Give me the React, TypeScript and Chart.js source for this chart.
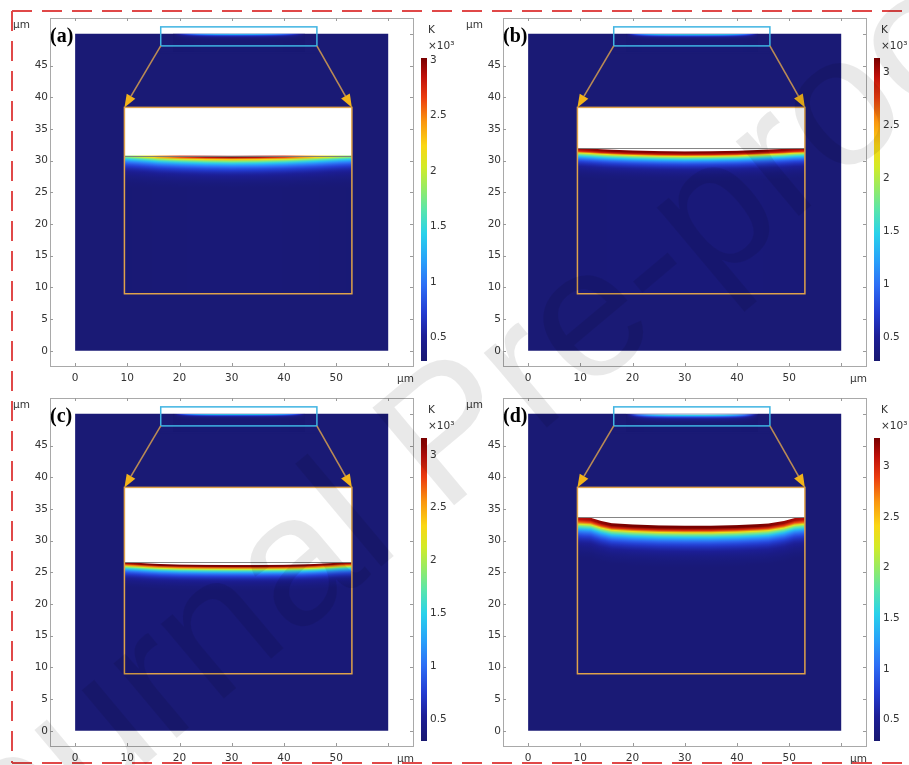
import React, { useEffect, useRef } from 'react';
import { Chart, registerables } from 'chart.js';

Chart.register(...registerables);

// ---------- axes / ticks ----------
const X_TICKS = [0, 10, 20, 30, 40, 50, 60];
const Y_TICKS = [0, 5, 10, 15, 20, 25, 30, 35, 40, 45, 50];
const CB_TICKS = [0.5, 1, 1.5, 2, 2.5, 3];
const X_RANGE = [-4.8, 64.7];
const Y_RANGE = [-2.4, 52.5];

// ---------- geometry of the model (μm) ----------
const DOMAIN_X = [0, 60];
const DOMAIN_TOP = 50;
const ZOOM_BOX_X = [16.4, 46.3];
const ZOOM_BOX_Y = [48.1, 51.1];
const INSET_X = [9.45, 53.0];
const INSET_Y = [9.0, 38.4];

const PANEL_LABELS = ['(a)', '(b)', '(c)', '(d)'];

// ---------- temperature field data (inset display units, K x 10^3) ----------
const PROFILE_X = [9.5, 12, 14, 16, 20, 25, 30, 35, 40, 44, 46, 49, 51, 53];
const SURFACE_LEVEL = [30.8, 32.0, 26.6, 33.7];
const CRATER_A = [30.8, 30.8, 30.8, 30.8, 30.8, 30.78, 30.76, 30.78, 30.8, 30.8, 30.8, 30.8, 30.8, 30.8];
const CRATER_B = [32.0, 31.9, 31.8, 31.72, 31.6, 31.5, 31.45, 31.48, 31.55, 31.68, 31.75, 31.85, 31.95, 32.0];
const CRATER_C = [26.6, 26.5, 26.4, 26.32, 26.22, 26.17, 26.15, 26.15, 26.18, 26.26, 26.32, 26.45, 26.55, 26.6];
const CRATER_D = [33.7, 33.6, 33.1, 32.75, 32.55, 32.4, 32.35, 32.35, 32.45, 32.6, 32.7, 33.1, 33.55, 33.7];
const PEAK_A = [1.75, 1.95, 2.15, 2.4, 2.7, 2.93, 3.0, 2.95, 2.75, 2.45, 2.3, 2.05, 1.9, 1.8];
const PEAK_B = [3.0, 3.05, 3.08, 3.1, 3.1, 3.1, 3.1, 3.1, 3.1, 3.1, 3.08, 3.05, 3.02, 3.0];
const PEAK_C = [3.05, 3.1, 3.12, 3.14, 3.15, 3.15, 3.15, 3.15, 3.15, 3.14, 3.12, 3.1, 3.07, 3.05];
const PEAK_D = [3.1, 3.15, 3.22, 3.26, 3.28, 3.28, 3.28, 3.28, 3.28, 3.27, 3.25, 3.2, 3.15, 3.1];
const MELT_W = [0.25, 0.45, 0.3, 0.6];
const DECAY_L = [1.1, 0.95, 0.85, 1.35];
const AMBIENT_T = 0.3;
const CB_MIN = [0.29, 0.28, 0.29, 0.29];
const CB_MAX = [3.02, 3.13, 3.16, 3.28];

const CRATERS = [CRATER_A, CRATER_B, CRATER_C, CRATER_D];
const PEAKS = [PEAK_A, PEAK_B, PEAK_C, PEAK_D];

// ---------- styles ----------
const NAVY = 'rgb(26,26,117)';
const TICK_FONT = { family: 'DejaVu Sans', size: 10.5 };
const TICK_COLOR = '#333';

const JET: [number, number[]][] = [
  [0.0, [24, 24, 112]],
  [0.08, [28, 30, 150]],
  [0.16, [35, 60, 210]],
  [0.25, [45, 110, 245]],
  [0.33, [40, 160, 250]],
  [0.42, [40, 210, 235]],
  [0.5, [90, 230, 170]],
  [0.57, [150, 235, 100]],
  [0.64, [210, 235, 40]],
  [0.71, [250, 215, 20]],
  [0.79, [250, 150, 15]],
  [0.87, [235, 60, 15]],
  [0.94, [190, 15, 10]],
  [1.0, [120, 0, 0]],
];

function jet(t: number): string {
  t = Math.max(0, Math.min(1, t));
  for (let i = 1; i < JET.length; i++) {
    if (t <= JET[i][0]) {
      const [t0, c0] = JET[i - 1];
      const [t1, c1] = JET[i];
      const f = (t - t0) / (t1 - t0);
      const c = c0.map((v, k) => Math.round(v + f * (c1[k] - v)));
      return `rgb(${c[0]},${c[1]},${c[2]})`;
    }
  }
  return 'rgb(120,0,0)';
}

function interp(xs: number[], ys: number[], x: number): number {
  if (x <= xs[0]) return ys[0];
  if (x >= xs[xs.length - 1]) return ys[ys.length - 1];
  for (let i = 1; i < xs.length; i++) {
    if (x <= xs[i]) {
      const f = (x - xs[i - 1]) / (xs[i] - xs[i - 1]);
      return ys[i - 1] + f * (ys[i] - ys[i - 1]);
    }
  }
  return ys[ys.length - 1];
}

// draw the heated band column by column
function drawField(
  ctx: CanvasRenderingContext2D,
  idx: number,
  c0: number,
  c1: number,
  colToInsetX: (col: number) => number,
  insetYToPix: (y: number) => number,
  whiteTopPix: number,
  bottomPix: number,
  pxPerUnit: number,
  fade: (col: number) => number
) {
  const w = MELT_W[idx];
  const L = DECAY_L[idx];
  const span = w + 4.5 * L;
  const tMin = CB_MIN[idx];
  const tMax = CB_MAX[idx];
  for (let col = c0; col < c1; col++) {
    const xi = colToInsetX(col + 0.5);
    const cy = interp(PROFILE_X, CRATERS[idx], xi);
    const pk = AMBIENT_T + (interp(PROFILE_X, PEAKS[idx], xi) - AMBIENT_T) * fade(col);
    const yTop = insetYToPix(cy);
    if (whiteTopPix < yTop) {
      ctx.fillStyle = '#ffffff';
      ctx.fillRect(col, whiteTopPix, 1, yTop - whiteTopPix);
    }
    const depthPx = Math.max(1, span * pxPerUnit);
    const g = ctx.createLinearGradient(0, yTop, 0, yTop + depthPx);
    const N = 18;
    for (let i = 0; i <= N; i++) {
      const f = i / N;
      const d = f * span;
      const T = AMBIENT_T + (pk - AMBIENT_T) * Math.exp(-Math.max(0, d - w) / L);
      g.addColorStop(f, jet((T - tMin) / (tMax - tMin)));
    }
    ctx.fillStyle = g;
    ctx.fillRect(col, yTop, 1, bottomPix - yTop);
  }
}

function arrow(ctx: CanvasRenderingContext2D, x0: number, y0: number, x1: number, y1: number) {
  const ang = Math.atan2(y1 - y0, x1 - x0);
  const head = 13;
  const hw = 5;
  const bx = x1 - head * Math.cos(ang);
  const by = y1 - head * Math.sin(ang);
  ctx.strokeStyle = '#b98a55';
  ctx.lineWidth = 1.6;
  ctx.beginPath();
  ctx.moveTo(x0, y0);
  ctx.lineTo(bx, by);
  ctx.stroke();
  ctx.fillStyle = '#f2b31a';
  ctx.beginPath();
  ctx.moveTo(x1, y1);
  ctx.lineTo(bx + hw * Math.sin(ang), by - hw * Math.cos(ang));
  ctx.lineTo(bx - hw * Math.sin(ang), by + hw * Math.cos(ang));
  ctx.closePath();
  ctx.fill();
}

function makeMainConfig(idx: number): any {
  const fieldPlugin = {
    id: 'field' + idx,
    afterDatasetsDraw(chart: any) {
      const ctx: CanvasRenderingContext2D = chart.ctx;
      const xs = chart.scales.x;
      const ys = chart.scales.y;
      const px = (v: number) => xs.getPixelForValue(v);
      const py = (v: number) => ys.getPixelForValue(v);
      const unit = py(0) - py(1);
      ctx.save();

      // miniature field at top of domain, inside zoom box
      const sx = (INSET_X[1] - INSET_X[0]) / (ZOOM_BOX_X[1] - ZOOM_BOX_X[0]);
      const sy = (ZOOM_BOX_Y[1] - ZOOM_BOX_Y[0]) / (INSET_Y[1] - INSET_Y[0]);
      const surf = SURFACE_LEVEL[idx];
      const m0 = Math.round(px(ZOOM_BOX_X[0]) + 12);
      const m1 = Math.round(px(ZOOM_BOX_X[1]) - 12);
      const mid = (m0 + m1) / 2;
      const half = (m1 - m0) / 2;
      drawField(
        ctx,
        idx,
        m0,
        m1,
        (c) => INSET_X[0] + (xs.getValueForPixel(c) - ZOOM_BOX_X[0]) * sx,
        (yi) => py(DOMAIN_TOP + (yi - surf) * sy),
        py(DOMAIN_TOP),
        py(ZOOM_BOX_Y[0]) + 6,
        unit * sy * 2.2,
        (c) => 0.42 * Math.max(0, 1 - Math.pow(Math.abs(c - mid) / half, 4))
      );
      ctx.fillStyle = NAVY;
      ctx.fillRect(px(ZOOM_BOX_X[0]), py(ZOOM_BOX_Y[0]) + 6, px(ZOOM_BOX_X[1]) - px(ZOOM_BOX_X[0]), 2);

      // inset
      const L = px(INSET_X[0]);
      const R = px(INSET_X[1]);
      const T = py(INSET_Y[1]);
      const B = py(INSET_Y[0]);
      ctx.fillStyle = '#ffffff';
      ctx.fillRect(L, T, R - L, B - T);
      drawField(
        ctx,
        idx,
        Math.round(L),
        Math.round(R),
        (c) => xs.getValueForPixel(c),
        (yi) => py(yi),
        T,
        B,
        unit,
        () => 1
      );
      // original surface line
      ctx.strokeStyle = 'rgba(120,120,120,0.9)';
      ctx.lineWidth = 1;
      ctx.beginPath();
      ctx.moveTo(L, Math.round(py(surf)) + 0.5);
      ctx.lineTo(R, Math.round(py(surf)) + 0.5);
      ctx.stroke();
      // inset border
      ctx.strokeStyle = '#dfa24a';
      ctx.lineWidth = 1.5;
      ctx.strokeRect(L, T, R - L, B - T);

      // zoom box
      const zl = px(ZOOM_BOX_X[0]);
      const zr = px(ZOOM_BOX_X[1]);
      const zt = py(ZOOM_BOX_Y[1]);
      const zb = py(ZOOM_BOX_Y[0]);
      ctx.strokeStyle = '#3fb4e2';
      ctx.lineWidth = 1.5;
      ctx.strokeRect(zl, zt, zr - zl, zb - zt);

      arrow(ctx, zl, zb, L, T);
      arrow(ctx, zr, zb, R, T);
      ctx.restore();
    },
    afterDraw(chart: any) {
      const ctx: CanvasRenderingContext2D = chart.ctx;
      const a = chart.chartArea;
      const xs = chart.scales.x;
      const ys = chart.scales.y;
      ctx.save();
      // frame
      ctx.strokeStyle = '#a9a9a9';
      ctx.lineWidth = 1;
      ctx.strokeRect(Math.round(a.left) + 0.5, Math.round(a.top) + 0.5, Math.round(a.right - a.left), Math.round(a.bottom - a.top));
      ctx.strokeStyle = '#9a9a9a';
      ctx.beginPath();
      for (const v of X_TICKS) {
        const x = Math.round(xs.getPixelForValue(v)) + 0.5;
        ctx.moveTo(x, a.top);
        ctx.lineTo(x, a.top + 3);
        ctx.moveTo(x, a.bottom);
        ctx.lineTo(x, a.bottom - 3);
      }
      for (const v of Y_TICKS) {
        const y = Math.round(ys.getPixelForValue(v)) + 0.5;
        ctx.moveTo(a.left, y);
        ctx.lineTo(a.left + 3, y);
        ctx.moveTo(a.right, y);
        ctx.lineTo(a.right - 3, y);
      }
      ctx.stroke();
      // unit labels
      ctx.fillStyle = TICK_COLOR;
      ctx.font = '10.5px "DejaVu Sans"';
      ctx.textAlign = 'left';
      ctx.textBaseline = 'alphabetic';
      ctx.fillText('µm', 13, 28);
      ctx.fillText('µm', a.right - 16, a.bottom + 16);
      // panel label
      ctx.fillStyle = '#000';
      ctx.font = 'bold 20px "Liberation Serif"';
      ctx.fillText(PANEL_LABELS[idx], a.left, 42);
      ctx.restore();
    },
  };

  return {
    type: 'line',
    data: {
      datasets: [
        {
          label: 'domain',
          data: [
            { x: DOMAIN_X[0], y: DOMAIN_TOP },
            { x: DOMAIN_X[1], y: DOMAIN_TOP },
          ],
          fill: 'origin',
          backgroundColor: NAVY,
          borderColor: NAVY,
          borderWidth: 0,
          pointRadius: 0,
        },
      ],
    },
    options: {
      animation: false,
      responsive: false,
      maintainAspectRatio: false,
      layout: { padding: { top: 18, right: 7, left: 0, bottom: 0 } },
      plugins: { legend: { display: false }, tooltip: { enabled: false } },
      scales: {
        x: {
          type: 'linear',
          min: X_RANGE[0],
          max: X_RANGE[1],
          afterBuildTicks: (s: any) => {
            s.ticks = X_TICKS.map((v) => ({ value: v }));
          },
          afterFit: (s: any) => {
            s.height = 19;
          },
          ticks: {
            callback: (v: number) => (v === 60 ? '' : String(v)),
            font: TICK_FONT,
            color: TICK_COLOR,
            padding: 6,
            maxRotation: 0,
            autoSkip: false,
          },
          grid: { display: false, drawTicks: false },
          border: { display: false },
        },
        y: {
          type: 'linear',
          min: Y_RANGE[0],
          max: Y_RANGE[1],
          afterBuildTicks: (s: any) => {
            s.ticks = Y_TICKS.map((v) => ({ value: v }));
          },
          afterFit: (s: any) => {
            s.width = 50;
          },
          ticks: {
            callback: (v: number) => (v === 50 ? '' : String(v)),
            font: TICK_FONT,
            color: TICK_COLOR,
            padding: 2,
            autoSkip: false,
          },
          grid: { display: false, drawTicks: false },
          border: { display: false },
        },
      },
    },
    plugins: [fieldPlugin],
  };
}

function makeColorbarConfig(idx: number): any {
  const tMin = CB_MIN[idx];
  const tMax = CB_MAX[idx];
  const labelPlugin = {
    id: 'cblabel' + idx,
    afterDraw(chart: any) {
      const ctx: CanvasRenderingContext2D = chart.ctx;
      const a = chart.chartArea;
      ctx.save();
      ctx.fillStyle = TICK_COLOR;
      ctx.font = '10.5px "DejaVu Sans"';
      ctx.textAlign = 'left';
      ctx.fillText('K', a.left + 7, 33);
      ctx.fillText('×10³', a.left + 7, 49);
      ctx.restore();
    },
  };
  return {
    type: 'bar',
    data: {
      labels: ['T'],
      datasets: [
        {
          label: 'T',
          data: [[tMin, tMax]],
          borderWidth: 0,
          barPercentage: 1,
          categoryPercentage: 1,
          backgroundColor: (c: any) => {
            const ch = c.chart;
            if (!ch.chartArea) return NAVY;
            const ys = ch.scales.y;
            const g = ch.ctx.createLinearGradient(0, ys.getPixelForValue(tMin), 0, ys.getPixelForValue(tMax));
            for (const [t] of JET) g.addColorStop(t, jet(t));
            return g;
          },
        },
      ],
    },
    options: {
      animation: false,
      responsive: false,
      maintainAspectRatio: false,
      layout: { padding: { top: 58, bottom: 24, left: 8, right: 0 } },
      plugins: { legend: { display: false }, tooltip: { enabled: false } },
      scales: {
        x: { display: false },
        y: {
          type: 'linear',
          position: 'right',
          min: tMin,
          max: tMax,
          afterBuildTicks: (s: any) => {
            s.ticks = CB_TICKS.map((v) => ({ value: v }));
          },
          afterFit: (s: any) => {
            s.width = 32;
          },
          ticks: {
            callback: (v: number) => String(v),
            font: TICK_FONT,
            color: TICK_COLOR,
            padding: 3,
            autoSkip: false,
          },
          grid: { display: false, drawTicks: false },
          border: { display: false },
        },
      },
    },
    plugins: [labelPlugin],
  };
}

function Panel({ idx, left, top }: { idx: number; left: number; top: number }) {
  const mainRef = useRef<HTMLCanvasElement>(null);
  const cbRef = useRef<HTMLCanvasElement>(null);
  useEffect(() => {
    const main = new Chart(mainRef.current as HTMLCanvasElement, makeMainConfig(idx));
    const cb = new Chart(cbRef.current as HTMLCanvasElement, makeColorbarConfig(idx));
    return () => {
      main.destroy();
      cb.destroy();
    };
  }, [idx]);
  return (
    <>
      <canvas
        ref={mainRef}
        width={420}
        height={385}
        style={{ position: 'absolute', left, top, width: 420, height: 385 }}
      />
      <canvas
        ref={cbRef}
        width={46}
        height={385}
        style={{ position: 'absolute', left: left + 413, top, width: 46, height: 385 }}
      />
    </>
  );
}

const PANEL_POS = [
  [0, 0],
  [453, 0],
  [0, 380],
  [453, 380],
];

export default function App() {
  return (
    <div
      style={{
        position: 'absolute',
        left: 0,
        top: 0,
        width: 909,
        height: 765,
        overflow: 'hidden',
        background: '#fff',
      }}
    >
      {PANEL_POS.map(([l, t], i) => (
        <Panel key={i} idx={i} left={l} top={t} />
      ))}
      <svg
        width={909}
        height={765}
        style={{ position: 'absolute', left: 0, top: 0, pointerEvents: 'none' }}
      >
        <g stroke="#e04848" strokeWidth={2} strokeDasharray="20 10" fill="none">
          <line x1={12} y1={11} x2={909} y2={11} />
          <line x1={12} y1={11} x2={12} y2={763} />
          <line x1={12} y1={763} x2={909} y2={763} />
        </g>
      </svg>
      <div
        style={{
          position: 'absolute',
          left: 445,
          top: 430,
          transform: 'translate(-50%, -50%) rotate(-40deg)',
          fontFamily: '"Liberation Sans", sans-serif',
          fontSize: 185,
          color: 'rgba(0,0,0,0.085)',
          whiteSpace: 'nowrap',
          pointerEvents: 'none',
          lineHeight: 1,
        }}
      >
        Journal Pre-proof
      </div>
    </div>
  );
}
